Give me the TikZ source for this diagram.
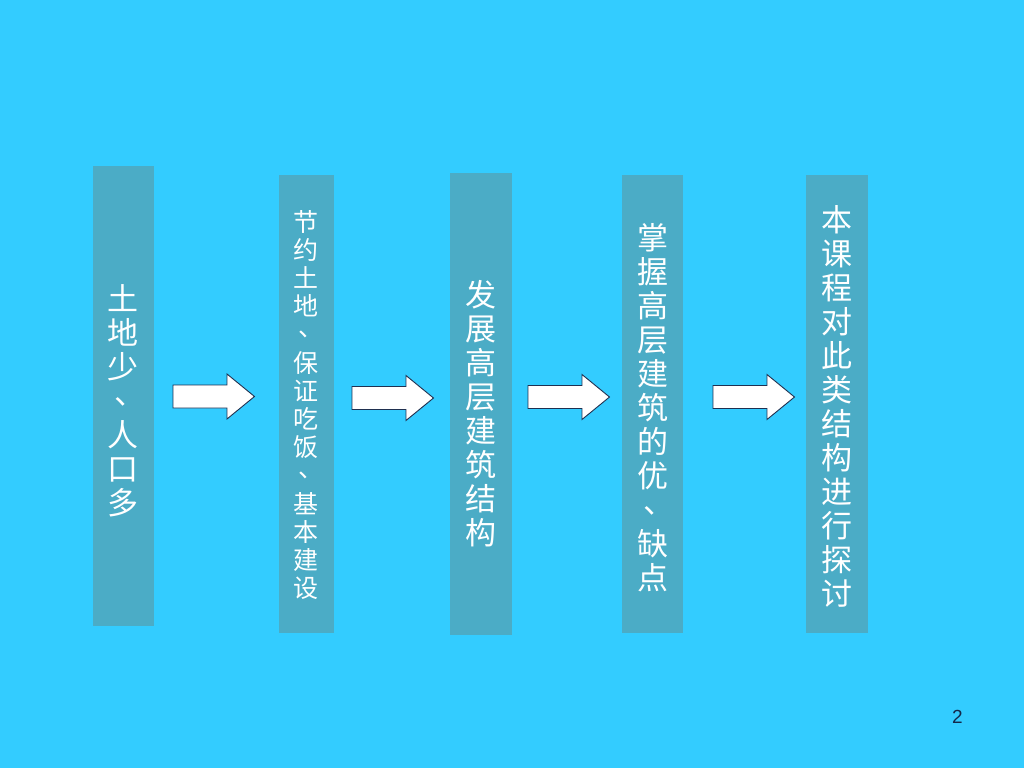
\documentclass[tikz,border=0pt]{standalone}
\usepackage{fontspec}
\setmainfont{Liberation Sans}
\newfontfamily\cjk{Noto Sans CJK SC}
\definecolor{bgblue}{HTML}{33CCFF}
\definecolor{colbox}{HTML}{4BACC6}
\definecolor{arrline}{HTML}{1F3050}
\definecolor{numcol}{HTML}{14284B}
\newcommand{\mydun}{\raisebox{0.28em}{\makebox[1em][l]{\kern0.22em 、}}}
\begin{document}
\begin{tikzpicture}[x=1pt,y=-1pt,
  colbox/.style={fill=colbox,draw=none,inner sep=0pt,rectangle},
  vtxt/.style={text=white,align=center,inner sep=0pt,font={\cjk\fontsize{31}{34}\selectfont}},
  vtxtsmall/.style={text=white,align=center,inner sep=0pt,font={\cjk\fontsize{25}{28.2}\selectfont}},
  blockarrow/.style={fill=white,draw=arrline,line width=0.9pt,line join=miter}]
\useasboundingbox (0,0) rectangle (1024,768);
\fill[bgblue] (0,0) rectangle (1024,768);
% columns
\node[colbox,minimum width=61,minimum height=460] (b1) at (123.5,396) {};
\node[colbox,minimum width=55,minimum height=458] (b2) at (306,404) {};
\node[colbox,minimum width=62,minimum height=462] (b3) at (481,404) {};
\node[colbox,minimum width=61,minimum height=458] (b4) at (652.5,404) {};
\node[colbox,minimum width=62,minimum height=458] (b5) at (837,404) {};
% texts
\node[vtxt] (t1) at (123,401) {土\\地\\少\\\mydun\\人\\口\\多};
\node[vtxtsmall] (t2) at (305.5,405) {节\\约\\土\\地\\\mydun\\保\\证\\吃\\饭\\\mydun\\基\\本\\建\\设};
\node[vtxt] (t3) at (481,414) {发\\展\\高\\层\\建\\筑\\结\\构};
\node[vtxt] (t4) at (652.5,408) {掌\\握\\高\\层\\建\\筑\\的\\优\\\mydun\\缺\\点};
\node[vtxt] (t5) at (837,406) {本\\课\\程\\对\\此\\类\\结\\构\\进\\行\\探\\讨};
% arrows
\coordinate (a1) at (173,396.5);
\coordinate (a2) at (352,398);
\coordinate (a3) at (528,397);
\coordinate (a4) at (713,397);
\foreach \a in {a1,a2,a3,a4}{
  \draw[blockarrow] (\a) ++(0,-11.5) -- ++(54,0) -- ++(0,-11) -- ++(27.5,22.5)
     -- ++(-27.5,22.5) -- ++(0,-11) -- ++(-54,0) -- cycle;
}
% page number
\node[text=numcol,font={\fontsize{19}{22}\selectfont},inner sep=0pt] (pn) at (957.5,716.5) {2};
\end{tikzpicture}
\end{document}
